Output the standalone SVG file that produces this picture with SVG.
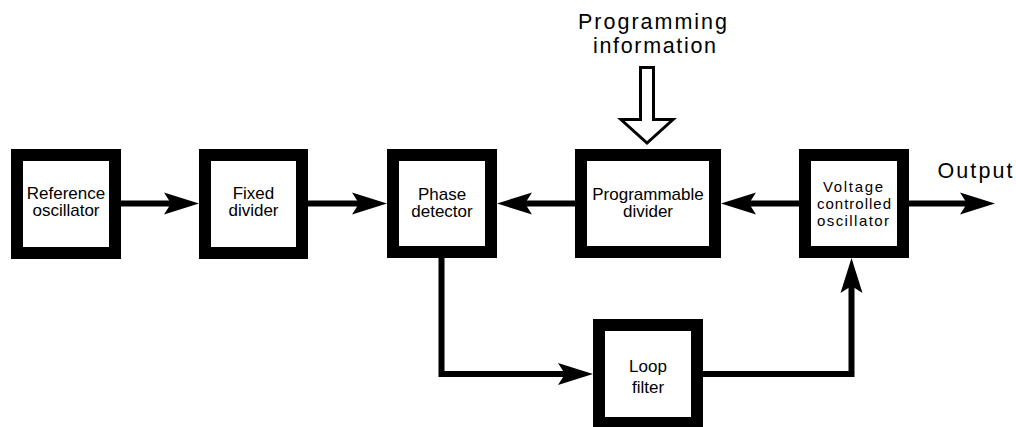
<svg xmlns="http://www.w3.org/2000/svg" width="1016" height="427" viewBox="0 0 1016 427">
<defs>
<style>
.box{fill:#fff;stroke:#000;stroke-width:12}
.lbl{font-family:"Liberation Sans",Arial,sans-serif;font-size:17px;fill:#000;text-anchor:middle}
.sm{font-family:"Liberation Sans",Arial,sans-serif;font-size:15px;fill:#000;text-anchor:middle}
.big{font-family:"Liberation Sans",Arial,sans-serif;font-size:21.5px;fill:#000;text-anchor:middle}
.wire{fill:none;stroke:#000;stroke-width:6}
.head{fill:#000}
</style>
<path id="ah" class="head" d="M0,0 L-35,-11 L-28,0 L-35,11 Z"/>
</defs>
<rect width="1016" height="427" fill="#fff"/>

<g id="ref-osc">
<rect class="box" x="17" y="155" width="98" height="98"/>
<text class="lbl" x="66" y="199">Reference</text>
<text class="lbl" x="66" y="216">oscillator</text>
</g>
<g id="fixed-div">
<rect class="box" x="205" y="155" width="97" height="98"/>
<text class="lbl" x="253.5" y="199">Fixed</text>
<text class="lbl" x="253.5" y="216">divider</text>
</g>
<g id="phase-det">
<rect class="box" x="393" y="155" width="98" height="97"/>
<text class="lbl" x="442" y="200">Phase</text>
<text class="lbl" x="442" y="217">detector</text>
</g>
<g id="prog-div">
<rect class="box" x="581" y="155" width="134" height="97"/>
<text class="lbl" x="648" y="200">Programmable</text>
<text class="lbl" x="648" y="217">divider</text>
</g>
<g id="vco">
<rect class="box" x="805" y="155" width="98" height="97"/>
<text class="sm" x="853" y="192" textLength="60">Voltage</text>
<text class="sm" x="854" y="209" textLength="74">controlled</text>
<text class="sm" x="853" y="226" textLength="72">oscillator</text>
</g>
<g id="loop-filter">
<rect class="box" x="599" y="325" width="98" height="98"/>
<text class="lbl" x="648" y="372">Loop</text>
<text class="lbl" x="648" y="393">filter</text>
</g>
<g id="prog-info">
<text class="big" x="652.5" y="29" textLength="149">Programming</text>
<text class="big" x="654.5" y="53" textLength="123">information</text>
<path d="M640.5,67.5 L653.5,67.5 L653.5,119.5 L673,119.5 L647,143 L621,119.5 L640.5,119.5 Z" fill="#fff" stroke="#000" stroke-width="3" stroke-linejoin="miter"/>
</g>
<g id="output-label">
<text class="big" x="975" y="178" textLength="75">Output</text>
</g>

<g id="connectors">
<path class="wire" d="M121,203.5 H175"/>
<use href="#ah" transform="translate(199,203.5)"/>
<path class="wire" d="M308,203.5 H362"/>
<use href="#ah" transform="translate(387,203.5)"/>
<path class="wire" d="M575,203.5 H521"/>
<use href="#ah" transform="translate(497,203.5) rotate(180)"/>
<path class="wire" d="M799,203.5 H745"/>
<use href="#ah" transform="translate(721,203.5) rotate(180)"/>
<path class="wire" d="M909,203.5 H971"/>
<use href="#ah" transform="translate(995,203.5)"/>
<path class="wire" d="M441.5,258 V374 H569"/>
<use href="#ah" transform="translate(593,374)"/>
<path class="wire" d="M703,374 H851.5 V282"/>
<use href="#ah" transform="translate(851.5,258) rotate(-90)"/>
</g>
</svg>
